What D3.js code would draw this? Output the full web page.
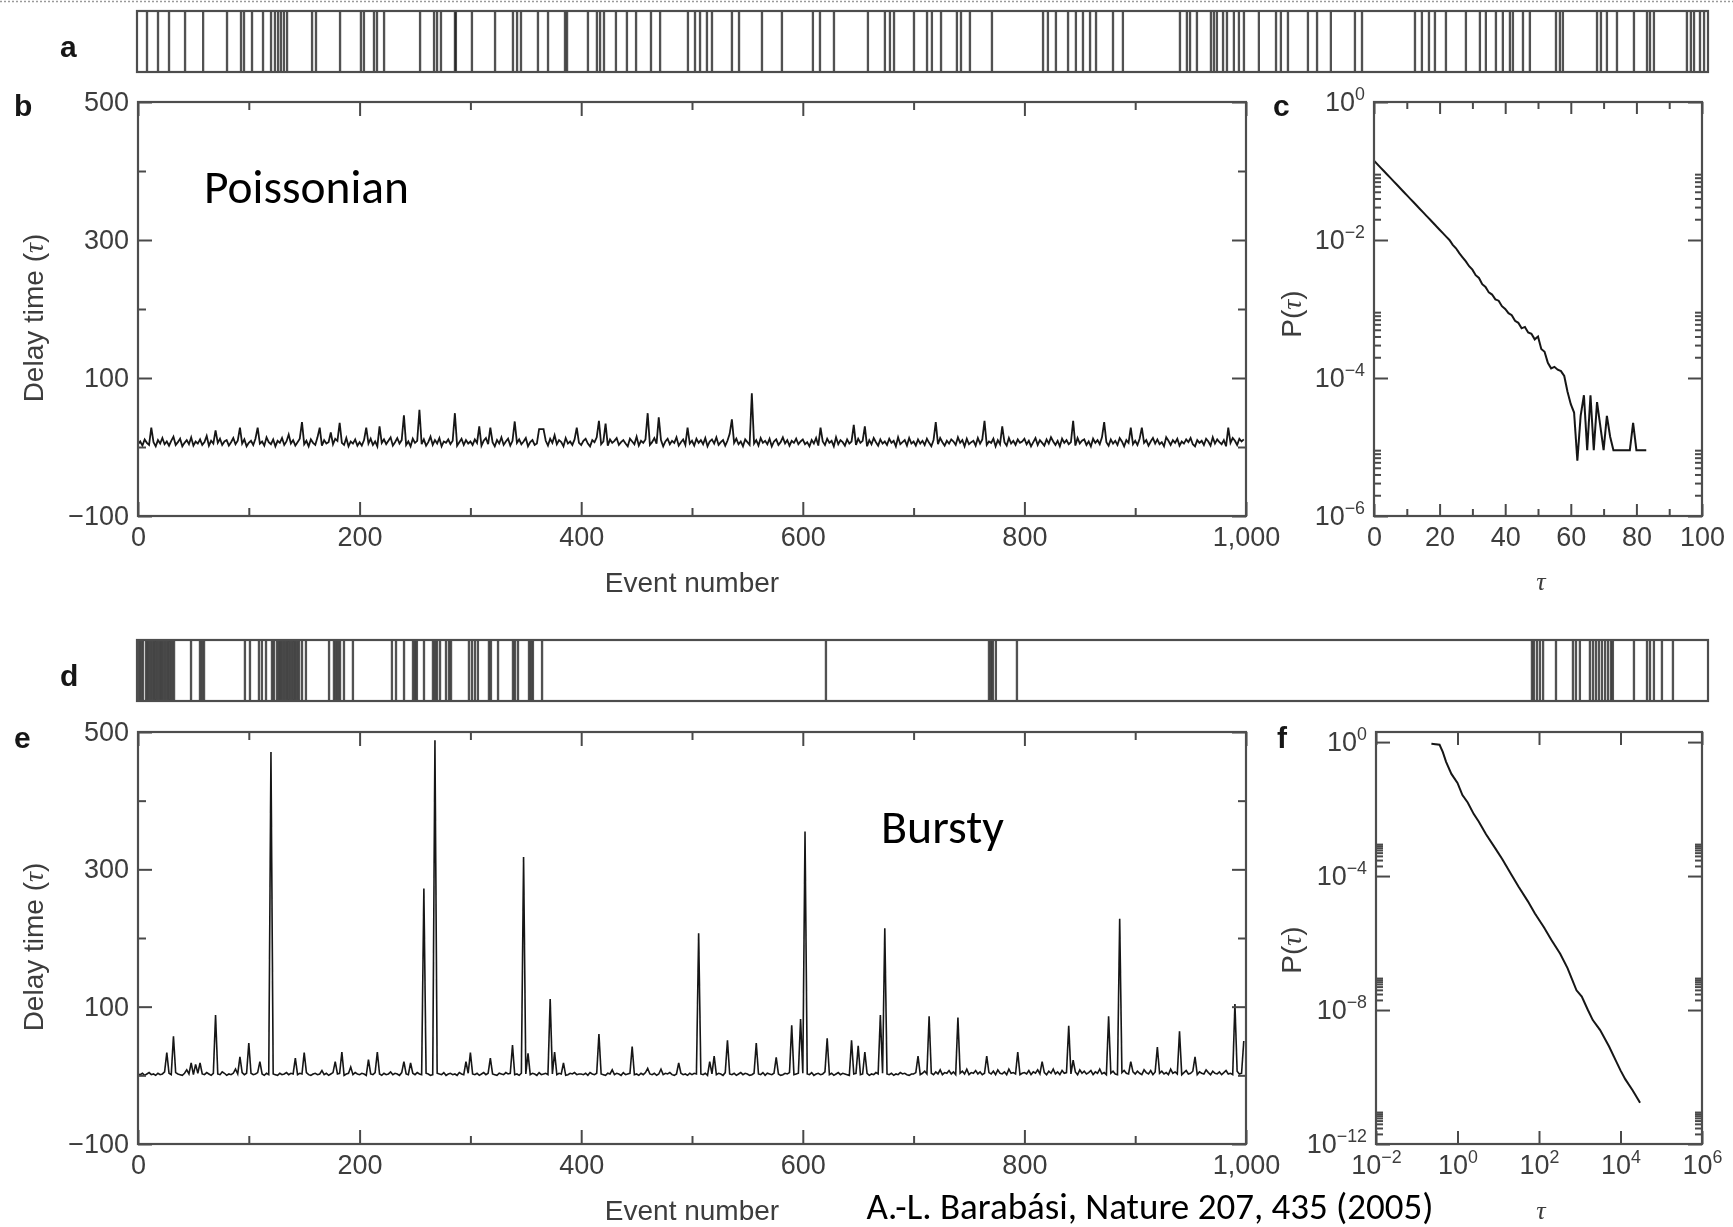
<!DOCTYPE html>
<html>
<head>
<meta charset="utf-8">
<script src="https://cdn.jsdelivr.net/npm/d3@7"></script>
<style>
  html, body { margin: 0; padding: 0; background: #fff; }
  svg { display: block; }
</style>
</head>
<body>
<svg id="fig" width="1733" height="1227"></svg>
<script>
// ---------- event barcodes (time of each event, 0–1000) ----------
const barPoisson = [7.0,14.0,21.0,31.2,42.7,57.9,66.8,68.7,73.8,80.8,85.9,88.4,90.4,92.2,94.1,96.1,
  112.0,114.5,129.8,143.1,145.0,151.4,153.3,157.8,180.7,189.6,191.5,194.0,202.9,203.5,213.7,228.4,
  239.8,242.4,244.9,255.7,262.1,272.9,274.2,287.5,293.2,295.2,297.7,305.3,312.3,318.1,327.6,333.4,
  351.1,355.6,358.8,363.2,366.4,379.1,383.6,398.2,410.9,430.6,435.1,444.0,465.6,476.4,479.6,482.2,
  494.9,503.2,506.3,512.1,522.2,524.8,530.5,544.5,577.0,580.1,585.2,592.9,597.9,602.4,606.9,610.7,
  621.5,627.8,664.1,668.5,670.5,674.9,683.8,685.7,687.6,691.5,694.0,698.4,701.6,704.8,714.3,725.2,
  728.3,732.8,745.5,751.3,760.1,775.4,779.9,813.6,818.0,822.5,826.3,833.3,846.0,854.9,858.7,865.1,
  869.5,874.0,875.9,882.3,886.7,903.3,905.8,907.7,929.4,931.9,935.7,942.1,952.9,961.2,963.1,965.6,
  986.6,989.1,991.1,994.9,997.5];
const barBursty = [1.9,3.2,4.5,6.4,7.6,8.9,10.2,11.5,12.7,14.0,15.3,16.5,17.8,19.1,20.4,21.6,22.9,24.2,
  35.0,40.7,42.0,43.3,69.3,72.5,78.2,80.1,82.7,86.5,87.8,89.7,91.0,92.2,93.5,94.8,96.1,97.3,98.6,99.9,
  101.1,102.4,103.7,105.6,108.1,122.8,125.9,127.2,128.5,129.8,132.3,138.0,162.8,165.4,170.5,176.2,
  177.5,178.7,183.2,188.9,190.2,191.5,193.4,197.2,199.1,200.4,211.8,213.7,215.6,217.5,224.5,225.8,
  230.3,239.8,241.1,243.0,250.0,251.3,252.5,258.3,438.9,542.6,543.9,545.1,547.0,560.4,888.0,889.3,
  891.2,893.1,895.1,903.3,914.1,916.0,918.5,924.9,926.8,928.7,930.6,932.5,934.5,936.4,938.3,939.5,
  952.9,961.2,963.1,965.6,970.7,977.7];

// ---------- delay time series, one sample every second event ----------
const eventStep = 2;
const delayPoisson = [
  4,8,2,11,6,3,28,7,1,10,5,13,4,8,2,9,15,3,7,12,1,6,10,4,14,2,8,5,11,3,7,16,2,9,5,24,6,12,3,8,10,2,7,13,4,9,28,5,11,1,
  6,9,3,12,28,5,8,2,14,7,4,11,1,9,6,13,3,8,18,5,10,2,7,12,36,4,9,1,11,6,3,14,28,2,10,5,7,21,4,12,9,35,6,3,13,1,8,5,11,2,
  7,2,10,28,5,12,3,8,1,30,6,11,4,9,14,2,7,13,5,10,46,3,8,1,12,6,9,54,4,11,2,7,15,3,10,5,13,1,8,6,11,4,9,49,2,7,12,3,10,5,
  8,3,11,6,30,2,9,13,4,28,7,1,10,5,14,3,8,12,2,9,37,6,11,4,8,13,1,7,10,3,5,26,26,26,9,2,12,6,17,4,10,7,1,13,5,8,3,11,28,6,
  3,9,12,5,1,10,7,14,38,4,8,34,2,11,6,9,13,3,7,10,5,1,12,8,4,15,2,9,6,11,49,3,7,13,5,43,10,1,8,12,4,9,6,14,2,7,11,3,28,5,
  9,2,12,6,10,4,13,1,8,11,5,14,3,7,10,2,9,19,40,6,12,4,8,1,11,7,3,78,5,10,2,13,6,9,4,12,1,8,11,3,7,14,5,10,2,9,6,12,4,8,
  11,4,7,1,10,5,13,2,28,8,3,12,6,9,1,14,4,10,7,2,11,5,8,32,3,12,6,9,30,1,10,4,13,7,2,11,5,8,3,12,6,9,1,14,4,7,10,2,13,5,
  8,2,11,5,9,3,12,6,1,10,36,4,13,7,2,9,5,11,8,3,14,6,10,1,12,4,7,9,2,13,5,11,38,3,8,6,12,1,10,4,30,7,2,13,5,9,3,11,6,8,
  12,4,9,1,7,13,3,10,6,2,11,5,14,8,3,9,1,12,6,10,4,7,38,2,13,5,9,11,3,8,1,12,6,10,4,14,36,7,2,11,5,9,3,13,8,1,10,6,28,4,
  9,3,12,28,6,10,2,8,13,5,11,4,7,1,14,9,3,10,6,12,2,8,5,11,7,13,4,1,10,6,9,3,12,8,2,14,5,11,7,4,10,1,28,6,13,9,3,12,8,11];
const delayBursty = [
  2,1,3,0,2,4,1,2,0,3,1,2,5,33,3,1,57,4,2,1,0,3,8,2,18,1,16,3,18,2,1,4,2,0,3,88,2,1,5,3,0,2,1,3,9,2,27,4,1,3,
  47,3,1,2,4,20,2,0,3,1,471,2,1,0,3,1,2,4,1,3,2,25,1,3,2,33,4,1,0,2,3,1,2,7,1,3,0,2,4,20,2,3,34,0,2,3,12,1,4,2,
  1,3,2,0,23,2,1,4,34,2,0,3,1,2,5,1,3,2,0,4,20,2,1,18,3,1,4,2,1,272,3,2,0,1,488,3,2,1,4,0,2,3,1,2,0,4,2,1,20,3,
  33,2,1,3,0,2,4,1,3,25,2,1,0,3,2,1,4,2,3,44,1,2,0,3,318,2,32,1,3,2,0,4,1,2,3,1,111,2,34,1,3,2,18,0,1,3,2,4,1,2,
  2,1,3,0,4,2,1,3,60,2,1,0,3,2,8,1,3,2,0,4,1,2,3,42,1,2,0,3,1,4,10,2,1,3,0,2,9,1,3,2,4,1,0,2,18,3,1,2,0,3,
  1,3,2,207,2,1,3,0,20,2,28,1,3,2,0,4,51,2,1,3,0,2,4,1,3,2,0,1,3,47,2,1,4,0,3,2,1,3,26,2,0,1,3,2,4,73,1,2,3,82,
  3,355,2,1,4,0,2,3,1,2,5,54,1,3,0,2,4,1,3,2,1,0,51,2,3,43,1,2,34,3,0,2,1,4,2,88,3,214,2,1,3,0,2,1,4,2,3,1,0,2,
  2,4,28,1,3,6,2,86,3,1,5,2,8,1,4,3,7,2,5,1,84,3,6,2,9,1,4,3,7,2,5,1,3,28,4,2,6,1,8,3,2,5,1,9,3,4,2,34,1,3,
  4,2,7,1,5,3,8,2,20,4,1,6,3,9,2,5,1,7,3,4,72,2,22,5,1,8,3,6,2,4,7,1,5,3,9,2,4,1,86,3,6,2,1,228,4,7,3,2,20,5,
  2,6,3,1,8,4,2,7,1,5,41,3,6,2,4,1,9,3,5,2,64,1,4,7,2,3,6,27,1,5,3,2,8,4,1,6,3,2,5,1,4,7,2,3,1,104,6,2,3,50];

// ---------- delay distributions ----------
const tauPoisson = d3.range(0, 84);   // tau = 0, 1, ..., 83
const probPoisson = [1.41e-1,1.26e-1,1.12e-1,1.00e-1,8.91e-2,7.94e-2,7.08e-2,6.31e-2,5.62e-2,5.01e-2,
  4.47e-2,3.98e-2,3.55e-2,3.16e-2,2.82e-2,2.51e-2,2.24e-2,2.00e-2,1.78e-2,1.58e-2,
  1.41e-2,1.26e-2,1.12e-2,1.00e-2,8.51e-3,7.59e-3,6.46e-3,5.62e-3,4.90e-3,4.17e-3,
  3.72e-3,3.09e-3,2.82e-3,2.29e-3,2.09e-3,1.74e-3,1.62e-3,1.38e-3,1.32e-3,1.10e-3,
  1.00e-3,8.71e-4,8.13e-4,6.76e-4,6.31e-4,5.25e-4,5.50e-4,4.57e-4,4.37e-4,3.63e-4,
  3.98e-4,2.63e-4,2.40e-4,1.66e-4,1.38e-4,1.45e-4,1.32e-4,1.26e-4,1.07e-4,6.31e-5,
  4.17e-5,3.16e-5,6.31e-6,2.82e-5,5.62e-5,9.0e-6,5.62e-5,9.0e-6,4.47e-5,2.00e-5,
  9.0e-6,2.82e-5,1.41e-5,9.0e-6,9.0e-6,9.0e-6,9.0e-6,9.0e-6,9.0e-6,2.24e-5,
  9.0e-6,9.0e-6,9.0e-6,9.0e-6];
const tauBursty = [0.229,0.363,0.437,0.525,0.708,1,1.32,1.78,2.51,3.31,5.01,8.32,12.6,20.9,31.6,52.5,
  79.4,132,200,331,501,832,1122,1585,2089,3162,5248,7943,10000,13183,19953,30200];
const probBursty = [0.891,0.832,0.501,0.257,0.112,6.03e-2,2.63e-2,1.58e-2,7.08e-3,4.27e-3,1.78e-3,6.92e-4,
  3.16e-4,1.12e-4,4.79e-5,1.82e-5,7.59e-6,2.95e-6,1.26e-6,4.79e-7,1.78e-7,3.89e-8,2.51e-8,1.0e-8,
  5.01e-9,2.51e-9,8.13e-10,2.82e-10,1.58e-10,8.51e-11,3.98e-11,1.70e-11];

// ---------- tick values ----------
const ticksDelay = [-100, 100, 300, 500];
const ticksDelayMinor = [0, 200, 400];
const ticksEvent = [0, 200, 400, 600, 800, 1000];
const ticksEventMinor = [100, 300, 500, 700, 900];
const ticksTauLin = [0, 20, 40, 60, 80, 100];
const ticksTauLinMinor = [10, 30, 50, 70, 90];
const ticksProbPoisson = [1, 1e-2, 1e-4, 1e-6];
const ticksProbBursty = [1, 1e-4, 1e-8, 1e-12];
const ticksTauLog = [1e-2, 1, 1e2, 1e4, 1e6];
const minorMultipliers = [2, 3, 4, 5, 6, 7, 8, 9];

// ---------- drawing ----------
const W = 1733, H = 1227;
const tickFont = "'Liberation Sans', Arial, Helvetica, sans-serif";
const noteFont = "Carlito, Calibri, Lato, 'Open Sans', sans-serif";
const axisGrey = "#4a4a4a", labelGrey = "#3c3c3c";
const svg = d3.select("#fig");

svg.append("defs").append("filter")
  .attr("id", "soft").attr("filterUnits", "userSpaceOnUse")
  .attr("x", 0).attr("y", 0).attr("width", W).attr("height", H)
  .append("feGaussianBlur").attr("stdDeviation", 0.6);

const fig = svg.append("g").attr("filter", "url(#soft)");

// dotted rule along the top edge
fig.append("line").attr("x1", 0).attr("x2", W).attr("y1", 1.5).attr("y2", 1.5)
  .attr("stroke", "#9a9a9a").attr("stroke-width", 1.5).attr("stroke-dasharray", "2,2");

const fmtComma = d3.format(",");

function styleAxis(g) {
  g.select(".domain").remove();
  g.attr("font-family", tickFont).attr("font-size", 27).attr("color", axisGrey);
  g.selectAll(".tick line").attr("stroke-width", 2);
  g.selectAll(".tick text").attr("fill", labelGrey);
}

function powerLabels(g) {
  g.selectAll(".tick text").each(function (d) {
    const e = Math.round(Math.log10(d));
    const t = d3.select(this);
    t.text("10");
    t.append("tspan").attr("dy", "-0.62em").attr("font-size", "0.66em")
      .text(e < 0 ? "\u2212" + (-e) : String(e));
  });
}

function frame(g, x0, x1, y0, y1) {
  g.append("rect").attr("x", x0).attr("y", y0).attr("width", x1 - x0).attr("height", y1 - y0)
    .attr("fill", "none").attr("stroke", "#4e4e4e").attr("stroke-width", 2.2);
}

function barcode(times, y0, y1) {
  const x = d3.scaleLinear().domain([0, 1000]).range([136, 1708]);
  const g = fig.append("g");
  g.selectAll("line").data(times).join("line")
    .attr("x1", d => x(d)).attr("x2", d => x(d))
    .attr("y1", y0).attr("y2", y1)
    .attr("stroke", "#1e1e1e").attr("stroke-width", 2.3).attr("stroke-opacity", 0.78);
  frame(g, 137, 1708, y0, y1);
}

function fourSides(g, x, y, box, spec) {
  const [x0, x1, y0, y1] = box;
  // left with labels
  g.append("g").attr("transform", `translate(${x0},0)`)
    .call(d3.axisLeft(y).tickValues(spec.yMajor).tickSize(-spec.yLen).tickPadding(9).tickFormat(spec.yFmt))
    .call(styleAxis).call(spec.yPow ? powerLabels : () => {});
  g.append("g").attr("transform", `translate(${x0},0)`)
    .call(d3.axisLeft(y).tickValues(spec.yMinor).tickSize(-spec.yMinLen).tickFormat(""))
    .call(styleAxis);
  // right mirror
  g.append("g").attr("transform", `translate(${x1},0)`)
    .call(d3.axisRight(y).tickValues(spec.yMajor).tickSize(-spec.yLen).tickFormat(""))
    .call(styleAxis);
  g.append("g").attr("transform", `translate(${x1},0)`)
    .call(d3.axisRight(y).tickValues(spec.yMinor).tickSize(-spec.yMinLen).tickFormat(""))
    .call(styleAxis);
  // bottom with labels
  g.append("g").attr("transform", `translate(0,${y1})`)
    .call(d3.axisBottom(x).tickValues(spec.xMajor).tickSize(-spec.xLen).tickPadding(11).tickFormat(spec.xFmt))
    .call(styleAxis).call(spec.xPow ? powerLabels : () => {});
  g.append("g").attr("transform", `translate(0,${y1})`)
    .call(d3.axisBottom(x).tickValues(spec.xMinor).tickSize(-spec.xMinLen).tickFormat(""))
    .call(styleAxis);
  // top mirror
  g.append("g").attr("transform", `translate(0,${y0})`)
    .call(d3.axisTop(x).tickValues(spec.xMajor).tickSize(-spec.xLen).tickFormat(""))
    .call(styleAxis);
  g.append("g").attr("transform", `translate(0,${y0})`)
    .call(d3.axisTop(x).tickValues(spec.xMinor).tickSize(-spec.xMinLen).tickFormat(""))
    .call(styleAxis);
  frame(g, x0, x1, y0, y1);
}

function label(g, txt, x, y, opts = {}) {
  const t = g.append("text").attr("x", x).attr("y", y)
    .attr("font-family", opts.family || tickFont)
    .attr("font-size", opts.size || 28)
    .attr("font-weight", opts.weight || "normal")
    .attr("fill", opts.fill || labelGrey)
    .attr("text-anchor", opts.anchor || "start");
  if (opts.rotate) t.attr("transform", `rotate(-90,${x},${y})`);
  return t.text(txt);
}

function tauTitle(g, prefix, x, y, rotate) {
  const t = g.append("text").attr("x", x).attr("y", y)
    .attr("font-family", tickFont).attr("font-size", 28).attr("fill", labelGrey)
    .attr("text-anchor", "middle");
  if (rotate) t.attr("transform", `rotate(-90,${x},${y})`);
  t.append("tspan").text(prefix + "(");
  t.append("tspan").attr("font-family", "'Liberation Serif', serif").attr("font-style", "italic").text("\u03c4");
  t.append("tspan").text(")");
}

function delayPanel(values, y0, y1, width) {
  const box = [138, 1246, y0, y1];
  const x = d3.scaleLinear().domain([0, 1000]).range([box[0], box[1]]);
  const y = d3.scaleLinear().domain([-100, 500]).range([y1, y0]);
  const g = fig.append("g");
  g.append("path").datum(values)
    .attr("d", d3.line().x((d, i) => x(i * eventStep)).y(d => y(d)))
    .attr("fill", "none").attr("stroke", "#161616").attr("stroke-width", width);
  fourSides(g, x, y, box, {
    yMajor: ticksDelay, yMinor: ticksDelayMinor, yLen: 14, yMinLen: 8, yFmt: fmtComma,
    xMajor: ticksEvent, xMinor: ticksEventMinor, xLen: 14, xMinLen: 8, xFmt: fmtComma
  });
  tauTitle(g, "Delay time ", 43, (y0 + y1) / 2 + 9, true);
  return g;
}

function distPanel(tau, prob, x, y, box, spec, yTitle, tauPos) {
  const g = fig.append("g");
  g.append("path").datum(d3.zip(tau, prob))
    .attr("d", d3.line().x(d => x(d[0])).y(d => y(d[1])))
    .attr("fill", "none").attr("stroke", "#161616").attr("stroke-width", 2);
  fourSides(g, x, y, box, spec);
  tauTitle(g, "P", 1301, yTitle, true);
  g.append("text").attr("x", tauPos[0]).attr("y", tauPos[1])
    .attr("font-family", "'Liberation Serif', serif").attr("font-style", "italic")
    .attr("font-size", 26).attr("fill", labelGrey).attr("text-anchor", "middle").text("\u03c4");
  return g;
}

// panel a: Poisson event sequence
barcode(barPoisson, 11, 72);
// panel b: Poisson delays
const gb = delayPanel(delayPoisson, 102, 516, 1.8);
label(gb, "Event number", 692, 592, { anchor: "middle" });

// panel c: exponential distribution
const xC = d3.scaleLinear().domain([0, 100]).range([1374, 1702]);
const yC = d3.scaleLog().domain([1e-6, 1]).range([516, 102]);
const minorC = [];
[-2, -4, -6].forEach(k => minorMultipliers.forEach(m => minorC.push(m * Math.pow(10, k))));
distPanel(tauPoisson, probPoisson, xC, yC, [1374, 1702, 102, 516], {
  yMajor: ticksProbPoisson, yMinor: minorC, yLen: 14, yMinLen: 7, yFmt: d => d, yPow: true,
  xMajor: ticksTauLin, xMinor: ticksTauLinMinor, xLen: 12, xMinLen: 7, xFmt: d3.format("d")
}, 314, [1541, 590]);

// panel d: bursty event sequence
barcode(barBursty, 640, 701);
// panel e: bursty delays
const ge = delayPanel(delayBursty, 732, 1144, 1.6);
label(ge, "Event number", 692, 1220, { anchor: "middle" });

// panel f: power-law distribution
const xF = d3.scaleLog().domain([1e-2, 1e6]).range([1376, 1702]);
const yF = d3.scaleLog().domain([1e-12, 2]).range([1144, 732]);
const minorF = [];
[-4, -8, -12].forEach(k => minorMultipliers.forEach(m => minorF.push(m * Math.pow(10, k))));
distPanel(tauBursty, probBursty, xF, yF, [1376, 1702, 732, 1144], {
  yMajor: ticksProbBursty, yMinor: minorF, yLen: 14, yMinLen: 7, yFmt: d => d, yPow: true,
  xMajor: ticksTauLog, xMinor: [], xLen: 13, xMinLen: 7, xFmt: d => d, xPow: true
}, 950, [1541, 1219]);

// panel letters
const letters = [["a", 60, 57], ["b", 14, 116], ["c", 1273, 116], ["d", 60, 686], ["e", 14, 748], ["f", 1277, 748]];
letters.forEach(([t, x, y]) => label(fig, t, x, y, { size: 30, weight: "bold", fill: "#151515" }));

// annotations
function note(txt, x, y, width, size) {
  const t = svg.append("text").attr("x", x).attr("y", y)
    .attr("font-family", noteFont).attr("font-size", size).attr("fill", "#000").text(txt);
  const w = t.node().getComputedTextLength();
  if (w > 0) t.attr("font-size", size * width / w);
  return t;
}
note("Poissonian", 204, 203, 205, 47);
note("Bursty", 881, 843, 123, 47);
svg.append("text").attr("x", 1150).attr("y", 1218.5).attr("text-anchor", "middle")
  .attr("font-family", noteFont).attr("font-size", 37).attr("fill", "#000")
  .text("A.-L. Barab\u00e1si, Nature 207, 435 (2005)");
</script>
</body>
</html>
